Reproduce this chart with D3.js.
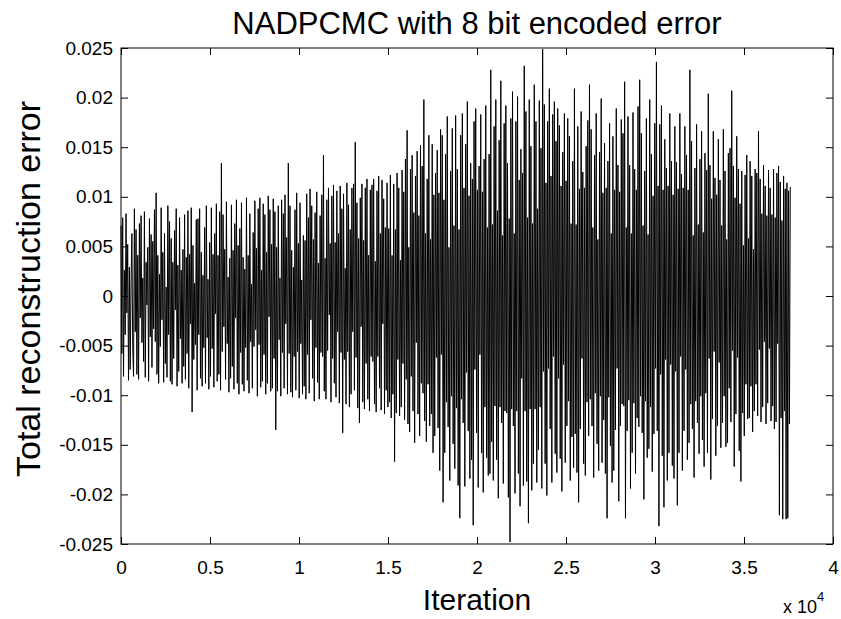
<!DOCTYPE html>
<html><head><meta charset="utf-8">
<script src="https://cdn.jsdelivr.net/npm/d3@7"></script>
<style>
body{margin:0;background:#fff}
svg{display:block}
text{font-family:"Liberation Sans",Arial,sans-serif;fill:#000}
</style>
</head><body>
<svg id="chart" width="841" height="619"></svg>
<script>
const chartTitle = "NADPCMC with 8 bit encoded error";
const xLabel = "Iteration";
const yLabel = "Total reconstruction error";
const xExponentBase = "x 10";
const xExponent = "4";
const xTickValues = [0, 5000, 10000, 15000, 20000, 25000, 30000, 35000, 40000];
const xTickLabels = ["0", "0.5", "1", "1.5", "2", "2.5", "3", "3.5", "4"];
const yTickValues = [-0.025, -0.02, -0.015, -0.01, -0.005, 0, 0.005, 0.01, 0.015, 0.02, 0.025];
const yTickLabels = ["-0.025", "-0.02", "-0.015", "-0.01", "-0.005", "0", "0.005", "0.01", "0.015", "0.02", "0.025"];
// one sample every 47 iterations
const iterationStep = 47;
const reconstructionError = [
0.0071,-0.0058,0.0079,-0.0081,0.0026,-0.0039,0.0083,-0.0017,0.0052,-0.0085,0.0029,-0.0074,0.0012,0.0063,-0.0052,-0.0081,0.0088,-0.0036,0.0067,-0.0079,
0.0041,-0.0084,0.0073,-0.0022,0.0081,-0.0047,0.0018,-0.0066,0.0085,-0.0082,0.0034,-0.0009,0.0049,-0.0086,0.0078,-0.0041,0.0062,-0.0072,0.0055,-0.0033,
0.0087,-0.0046,0.0104,-0.0079,0.0041,-0.0088,0.0022,-0.0051,0.0089,-0.0024,0.0044,-0.0087,0.0063,-0.0068,0.0009,-0.0082,0.0091,-0.0039,0.0075,-0.0086,
0.0058,-0.0089,0.0034,-0.0063,0.0066,-0.0014,0.0088,-0.0091,0.0031,-0.0076,0.0079,-0.0043,0.0026,-0.0088,0.0047,-0.0071,0.0082,-0.0084,0.0039,-0.0058,
0.0086,-0.0093,0.0042,-0.0028,0.0089,-0.0117,0.0051,-0.0064,0.0013,-0.0049,0.0077,-0.0095,0.0078,-0.0039,0.0088,-0.0083,0.0044,-0.0091,0.0021,-0.0052,
0.0069,-0.0088,0.0091,-0.0042,0.0017,-0.0094,0.0054,-0.0081,0.0089,-0.0053,0.0042,-0.0092,0.0063,-0.0018,0.0093,-0.0086,0.0041,-0.0079,0.0085,-0.0095,
0.0134,-0.0056,0.0082,-0.0031,0.0047,-0.0084,0.0095,-0.0048,0.0019,-0.0097,0.0038,-0.0083,0.0092,-0.0071,0.0046,-0.0094,0.0073,-0.0022,0.0097,-0.0088,
0.0051,-0.0099,0.0068,-0.0057,0.0094,-0.0089,0.0039,-0.0096,0.0027,-0.0052,0.0099,-0.0085,0.0041,-0.0098,0.0083,-0.0046,0.0012,-0.0093,0.0064,-0.0051,
0.0096,-0.0034,0.0048,-0.0101,0.0088,-0.0049,0.0099,-0.0092,0.0026,-0.0086,0.0093,-0.0059,0.0082,-0.0099,0.0044,-0.0088,0.0101,-0.0021,0.0087,-0.0096,
0.0052,-0.0093,0.0098,-0.0063,0.0085,-0.0135,0.0049,-0.0096,0.0091,-0.0044,0.0018,-0.0101,0.0097,-0.0057,0.0083,-0.0093,0.0102,-0.0028,0.0059,-0.0099,
0.0134,-0.0058,0.0091,-0.0097,0.0046,-0.0102,0.0029,-0.0061,0.0087,-0.0095,0.0104,-0.0056,0.0053,-0.0103,0.0094,-0.0048,0.0016,-0.0099,0.0061,-0.0091,
0.0056,-0.0104,0.0103,-0.0059,0.0079,-0.0098,0.0108,-0.0024,0.0091,-0.0083,0.0057,-0.0106,0.0084,-0.0052,0.0105,-0.0087,0.0033,-0.0104,0.0081,-0.0057,
0.0102,-0.0061,0.0142,-0.0096,0.0038,-0.0104,0.0097,-0.0055,0.0109,-0.0019,0.0053,-0.0107,0.0101,-0.0063,0.0112,-0.0088,0.0054,-0.0102,0.0106,-0.0036,
0.0063,-0.0108,0.0111,-0.0057,0.0088,-0.0138,0.0103,-0.0064,0.0028,-0.0109,0.0114,-0.0056,0.0092,-0.0112,0.0067,-0.0099,0.0109,-0.0036,0.0113,-0.0095,
0.0155,-0.0062,0.0094,-0.0113,0.0058,-0.0128,0.0099,-0.0031,0.0113,-0.0107,0.0056,-0.0114,0.0109,-0.0068,0.0118,-0.0104,0.0041,-0.0116,0.0107,-0.0061,
0.0112,-0.0066,0.0118,-0.0109,0.0035,-0.0117,0.0106,-0.0061,0.0121,-0.0093,0.0063,-0.0115,0.0117,-0.0028,0.0098,-0.0119,0.0069,-0.0095,0.0114,-0.0112,
0.0068,-0.0107,0.0122,-0.0123,0.0041,-0.0099,0.0113,-0.0167,0.0067,-0.0118,0.0124,-0.0064,0.0109,-0.0121,0.0036,-0.0112,0.0127,-0.0068,0.0105,-0.0125,
0.0138,-0.0084,0.0167,-0.0129,0.0049,-0.0137,0.0128,-0.0081,0.0142,-0.0116,0.0084,-0.0148,0.0121,-0.0047,0.0146,-0.0119,0.0081,-0.0141,0.0152,-0.0088,
0.0131,-0.0098,0.0198,-0.0126,0.0063,-0.0147,0.0118,-0.0089,0.0162,-0.0131,0.0057,-0.0119,0.0153,-0.0158,0.0102,-0.0141,0.0124,-0.0062,0.0147,-0.0133,
0.0104,-0.0176,0.0168,-0.0059,0.0162,-0.0208,0.0097,-0.0158,0.0143,-0.0107,0.0181,-0.0132,0.0049,-0.0186,0.0126,-0.0101,0.0169,-0.0149,0.0071,-0.0174,
0.0182,-0.0113,0.0128,-0.0191,0.0067,-0.0224,0.0162,-0.0104,0.0184,-0.0128,0.0109,-0.0192,0.0153,-0.0077,0.0196,-0.0136,0.0101,-0.0184,0.0134,-0.0165,
0.0118,-0.0231,0.0176,-0.0074,0.0189,-0.0138,0.0107,-0.0193,0.0131,-0.0059,0.0183,-0.0158,0.0105,-0.0198,0.0138,-0.0112,0.0192,-0.0163,0.0069,-0.0181,
0.0143,-0.0179,0.0228,-0.0147,0.0072,-0.0186,0.0171,-0.0111,0.0198,-0.0165,0.0086,-0.0204,0.0157,-0.0112,0.0217,-0.0128,0.0061,-0.0189,0.0174,-0.0116,
0.0192,-0.0118,0.0134,-0.0203,0.0078,-0.0248,0.0179,-0.0114,0.0206,-0.0131,0.0063,-0.0199,0.0176,-0.0116,0.0201,-0.0179,0.0117,-0.0212,0.0148,-0.0083,
0.0124,-0.0191,0.0232,-0.0116,0.0186,-0.0187,0.0079,-0.0229,0.0198,-0.0114,0.0151,-0.0196,0.0073,-0.0169,0.0213,-0.0114,0.0176,-0.0188,0.0088,-0.0155,
0.0197,-0.0112,0.0149,-0.0194,0.0249,-0.0076,0.0193,-0.0169,0.0114,-0.0201,0.0176,-0.0073,0.0209,-0.0134,0.0121,-0.0188,0.0183,-0.0061,0.0196,-0.0159,
0.0156,-0.0178,0.0189,-0.0083,0.0172,-0.0164,0.0111,-0.0197,0.0145,-0.0069,0.0184,-0.0168,0.0116,-0.0131,0.0179,-0.0106,0.0161,-0.0186,0.0073,-0.0142,
0.0136,-0.0173,0.0209,-0.0139,0.0072,-0.0178,0.0171,-0.0208,0.0108,-0.0134,0.0186,-0.0063,0.0125,-0.0169,0.0109,-0.0181,0.0151,-0.0107,0.0177,-0.0141,
0.0213,-0.0104,0.0168,-0.0131,0.0069,-0.0183,0.0142,-0.0098,0.0184,-0.0149,0.0057,-0.0176,0.0145,-0.0101,0.0199,-0.0168,0.0104,-0.0125,0.0154,-0.0179,
0.0109,-0.0224,0.0136,-0.0102,0.0174,-0.0151,0.0063,-0.0188,0.0161,-0.0176,0.0107,-0.0135,0.0189,-0.0073,0.0132,-0.0207,0.0105,-0.0131,0.0178,-0.0109,
0.0164,-0.0111,0.0216,-0.0224,0.0069,-0.0136,0.0181,-0.0105,0.0132,-0.0194,0.0063,-0.0158,0.0185,-0.0108,0.0128,-0.0179,0.0107,-0.0123,0.0191,-0.0132,
0.0218,-0.0101,0.0164,-0.0138,0.0071,-0.0205,0.0126,-0.0106,0.0179,-0.0163,0.0062,-0.0154,0.0198,-0.0112,0.0143,-0.0177,0.0101,-0.0139,0.0174,-0.0073,
0.0236,-0.0136,0.0111,-0.0232,0.0173,-0.0079,0.0192,-0.0161,0.0107,-0.0213,0.0158,-0.0064,0.0129,-0.0186,0.0111,-0.0158,0.0184,-0.0069,0.0136,-0.0171,
0.0102,-0.0184,0.0171,-0.0076,0.0135,-0.0211,0.0108,-0.0158,0.0184,-0.0061,0.0123,-0.0176,0.0109,-0.0136,0.0171,-0.0074,0.0142,-0.0165,0.0107,-0.0148,
0.0228,-0.0109,0.0156,-0.0134,0.0061,-0.0183,0.0129,-0.0106,0.0173,-0.0128,0.0072,-0.0159,0.0138,-0.0101,0.0166,-0.0145,0.0064,-0.0172,0.0144,-0.0098,
0.0127,-0.0158,0.0204,-0.0063,0.0132,-0.0185,0.0098,-0.0124,0.0166,-0.0056,0.0119,-0.0161,0.0102,-0.0131,0.0158,-0.0067,0.0117,-0.0153,0.0071,-0.0128,
0.0168,-0.0101,0.0126,-0.0152,0.0057,-0.0148,0.0144,-0.0093,0.0149,-0.0127,0.0207,-0.0055,0.0131,-0.0172,0.0099,-0.0119,0.0161,-0.0062,0.0128,-0.0156,
0.0093,-0.0187,0.0126,-0.0118,0.0051,-0.0141,0.0122,-0.0089,0.0142,-0.0124,0.0058,-0.0123,0.0136,-0.0091,0.0121,-0.0137,0.0047,-0.0116,0.0128,-0.0089,
0.0124,-0.0121,0.0166,-0.0054,0.0118,-0.0127,0.0083,-0.0112,0.0132,-0.0046,0.0111,-0.0129,0.0081,-0.0108,0.0127,-0.0053,0.0109,-0.0126,0.0082,-0.0111,
0.0128,-0.0134,0.0079,-0.0127,0.0124,-0.0048,0.0131,-0.0221,0.0115,-0.0123,0.0076,-0.0225,0.0121,-0.0116,0.0108,-0.0225,0.0114,-0.0224,0.0106,-0.0129,
0.0110
];

const W = 841, H = 619;
const plot = {left: 121, right: 833, top: 48, bottom: 544};
const svg = d3.select("#chart");

const x = d3.scaleLinear().domain([0, 40000]).range([plot.left, plot.right]);
const y = d3.scaleLinear().domain([-0.025, 0.025]).range([plot.bottom, plot.top]);

svg.append("rect").attr("width", W).attr("height", H).attr("fill", "#fff");

const line = d3.line().x((d, i) => x(i * iterationStep)).y(d => y(d));
svg.append("path")
  .datum(reconstructionError)
  .attr("d", line)
  .attr("fill", "none")
  .attr("stroke", "#000")
  .attr("stroke-width", 1);

const tickLen = 7;
const fmtX = (d) => xTickLabels[xTickValues.indexOf(d)];
const fmtY = (d) => yTickLabels[yTickValues.indexOf(d)];

const gB = svg.append("g").attr("transform", `translate(0,${plot.bottom})`)
  .call(d3.axisBottom(x).tickValues(xTickValues).tickFormat(fmtX).tickSizeInner(-tickLen).tickSizeOuter(0).tickPadding(17));
const gT = svg.append("g").attr("transform", `translate(0,${plot.top})`)
  .call(d3.axisTop(x).tickValues(xTickValues).tickFormat("").tickSizeInner(-tickLen).tickSizeOuter(0));
const gL = svg.append("g").attr("transform", `translate(${plot.left},0)`)
  .call(d3.axisLeft(y).tickValues(yTickValues).tickFormat(fmtY).tickSizeInner(-tickLen).tickSizeOuter(0).tickPadding(8));
const gR = svg.append("g").attr("transform", `translate(${plot.right},0)`)
  .call(d3.axisRight(y).tickValues(yTickValues).tickFormat("").tickSizeInner(-tickLen).tickSizeOuter(0));

[gB, gT, gL, gR].forEach(g => {
  g.selectAll(".domain").remove();
  g.selectAll("line").attr("stroke", "#000").attr("stroke-width", 1);
  g.selectAll("text").attr("font-family", "'Liberation Sans', Arial, sans-serif").attr("font-size", 19).attr("fill", "#000");
});

svg.append("rect")
  .attr("x", plot.left).attr("y", plot.top)
  .attr("width", plot.right - plot.left).attr("height", plot.bottom - plot.top)
  .attr("fill", "none").attr("stroke", "#000").attr("stroke-width", 1);

svg.append("text")
  .attr("x", (plot.left + plot.right) / 2).attr("y", 34)
  .attr("text-anchor", "middle").attr("font-size", 31)
  .text(chartTitle);

svg.append("text")
  .attr("x", (plot.left + plot.right) / 2).attr("y", 610)
  .attr("text-anchor", "middle").attr("font-size", 30)
  .text(xLabel);

svg.append("text")
  .attr("transform", `translate(40,${(plot.top + plot.bottom) / 2 - 7}) rotate(-90)`)
  .attr("text-anchor", "middle").attr("font-size", 34)
  .text(yLabel);

const ex = svg.append("text").attr("x", 783).attr("y", 613).attr("font-size", 18);
ex.append("tspan").text(xExponentBase);
ex.append("tspan").attr("dy", -12).attr("font-size", 13).text(xExponent);
</script>
</body></html>
